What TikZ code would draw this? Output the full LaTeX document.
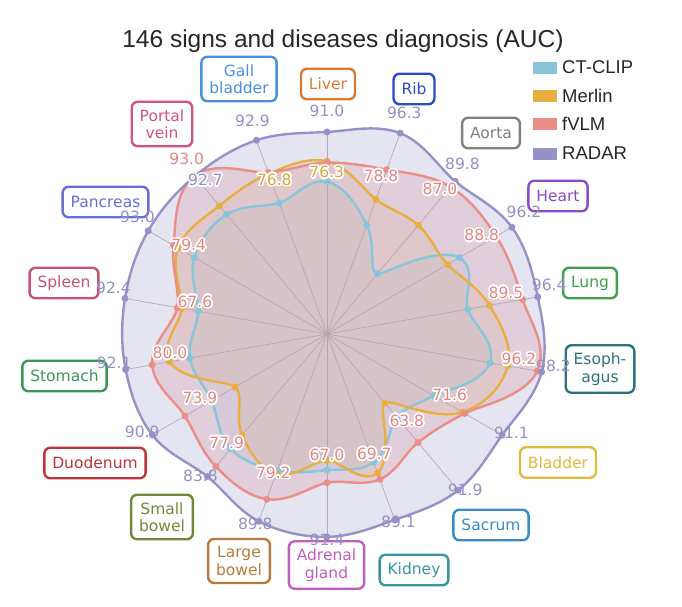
\documentclass[tikz,border=0pt]{standalone}
\usepackage{fontspec}
\setmainfont{DejaVu Sans}
\newfontfamily\titlefont{Liberation Sans}
\usepackage{contour}
\contourlength{1.6pt}
\definecolor{ctclip}{RGB}{135,198,218}
\definecolor{merlin}{RGB}{232,174,66}
\definecolor{fvlm}{RGB}{236,142,136}
\definecolor{radar}{RGB}{150,146,200}
\definecolor{radartext}{RGB}{148,144,196}
\definecolor{fvlmtext}{RGB}{226,134,130}
\definecolor{merlintext}{RGB}{214,166,64}
\definecolor{spokegray}{RGB}{185,180,185}
\definecolor{cliver}{RGB}{221,121,52}
\definecolor{crib}{RGB}{45,75,190}
\definecolor{caorta}{RGB}{128,128,128}
\definecolor{cheart}{RGB}{140,75,200}
\definecolor{clung}{RGB}{65,160,75}
\definecolor{cesoph}{RGB}{45,115,125}
\definecolor{cbladder}{RGB}{225,185,60}
\definecolor{csacrum}{RGB}{55,140,200}
\definecolor{ckidney}{RGB}{55,150,160}
\definecolor{cadrenal}{RGB}{190,95,190}
\definecolor{clarge}{RGB}{185,122,62}
\definecolor{csmall}{RGB}{110,140,55}
\definecolor{cduoden}{RGB}{190,52,58}
\definecolor{cstomach}{RGB}{60,150,90}
\definecolor{cspleen}{RGB}{200,82,112}
\definecolor{cpancreas}{RGB}{100,112,210}
\definecolor{cportal}{RGB}{210,82,130}
\definecolor{cgall}{RGB}{72,145,220}
\tikzset{
  organ/.style={draw=#1, text=#1, fill=white, line width=2.4pt, rounded corners=6pt,
    align=center, inner xsep=8pt, inner ysep=7.5pt, minimum height=30.5pt,
    font=\fontsize{15.5}{17.5}\selectfont},
  auc/.style={text=#1, inner sep=0pt, font=\fontsize{15.5}{17.5}\selectfont},
  spoke/.style={spokegray, line width=0.7pt},
  model/.style={draw=#1, line width=2.4pt, line join=round},
  swatch/.style={fill=#1, minimum width=24pt, minimum height=12pt, inner sep=0pt},
  legtext/.style={anchor=west, inner sep=0pt, text=black!85,
    font=\titlefont\fontsize{18.5}{20}\selectfont}
}
\newcommand\halo[1]{\contour{white}{#1}}
\pgfmathdeclarefunction{crsp}{5}{%
  \pgfmathparse{0.5*(2*#2+(#3-#1)*#5+(2*#1-5*#2+4*#3-#4)*#5^2+(3*#2-#1-3*#3+#4)*#5^3)}%
}
\def\ctclipv{{68.6,52.3,35.5,68.9,64.4,74.6,55.6,49.0,61.5,61.3,65.5,67.5,60.0,62.7,59.0,69.0,70.3,62.8}}
\def\merlinv{{77.8,64.5,64.0,62.7,74.3,82.6,70.5,40.6,66.7,57.0,67.0,59.5,47.8,72.0,66.5,77.5,75.4,76.8}}
\def\fvlmv{{77.2,78.8,86.5,88.0,89.5,96.2,71.6,63.8,69.7,67.0,79.2,77.9,73.9,80.0,68.5,79.8,93.0,77.5}}
\def\radarv{{91.0,96.3,89.8,96.2,96.4,98.2,91.1,91.9,89.1,91.4,89.8,83.8,90.9,92.1,92.4,93.0,92.7,92.9}}
\newcommand\curve[1]{plot [domain=0:18, samples=181, variable=\t]
  ({90-20*\t}:{crsp(#1[int(mod(floor(\t)+17,18))], #1[int(mod(floor(\t),18))],
    #1[int(mod(floor(\t)+1,18))], #1[int(mod(floor(\t)+2,18))], \t-floor(\t))}) -- cycle}
\begin{document}
\begin{tikzpicture}[x=1pt, y=1pt]
\useasboundingbox (-327,-272) rectangle (355,334);
\begin{scope}[x=2.22pt, y=2.22pt]
\foreach \i in {0,...,17}
  \draw [spoke] (0,0) -- ({90-20*\i}:{\radarv[\i]});
\foreach \m/\c/\o in {\ctclipv/ctclip/0.15, \merlinv/merlin/0.15, \fvlmv/fvlm/0.25, \radarv/radar/0.25}
  \fill [\c, fill opacity=\o] \curve{\m};
\foreach \m/\c in {\ctclipv/ctclip, \merlinv/merlin, \fvlmv/fvlm, \radarv/radar} {
  \draw [model=\c] \curve{\m};
  \foreach \i in {0,...,17}
    \fill [\c] ({90-20*\i}:{\m[\i]}) circle (3.5pt);
}
\end{scope}

\node [anchor=base, font=\titlefont\fontsize{24.5}{27}\selectfont, text=black!85] (title) at (16,287) {146 signs and diseases diagnosis (AUC)};

\node [swatch=ctclip] (kctclip) at (218,266) {};
\node [swatch=merlin] (kmerlin) at (218,238) {};
\node [swatch=fvlm] (kfvlm) at (218,210) {};
\node [swatch=radar] (kradar) at (218,180) {};
\node [legtext] (lctclip) at (235,266.5) {CT-CLIP};
\node [legtext] (lmerlin) at (235,238.5) {Merlin};
\node [legtext] (lfvlm) at (235,210.5) {fVLM};
\node [legtext] (lradar) at (235,180.5) {RADAR};

\node [organ=cliver] (liver) at (1,250) {Liver};
\node [organ=crib] (rib) at (87,245) {Rib};
\node [organ=caorta] (aorta) at (164,201) {Aorta};
\node [organ=cheart] (heart) at (231,138) {Heart};
\node [organ=clung] (lung) at (263,51) {Lung};
\node [organ=cesoph] (esoph) at (273,-35) {Esoph-\\agus};
\node [organ=cbladder] (bladder) at (231,-128.5) {Bladder};
\node [organ=csacrum] (sacrum) at (164,-191) {Sacrum};
\node [organ=ckidney] (kidney) at (87,-236) {Kidney};
\node [organ=cadrenal] (adrenal) at (-0.5,-231) {Adrenal\\gland};
\node [organ=clarge] (large) at (-88,-227) {Large\\bowel};
\node [organ=csmall] (small) at (-165,-183) {Small\\bowel};
\node [organ=cduoden] (duoden) at (-232,-129) {Duodenum};
\node [organ=cstomach] (stomach) at (-262.5,-42) {Stomach};
\node [organ=cspleen] (spleen) at (-263,51) {Spleen};
\node [organ=cpancreas] (pancreas) at (-221.5,132) {Pancreas};
\node [organ=cportal] (portal) at (-165,210) {Portal\\vein};
\node [organ=cgall] (gall) at (-88,255) {Gall\\bladder};

\node [auc=radartext] (rliver) at (0,223) {91.0};
\node [auc=radartext] (rrib) at (77.3,221) {96.3};
\node [auc=radartext] (raorta) at (135.5,170.3) {89.8};
\node [auc=radartext] (rheart) at (197,122) {96.2};
\node [auc=radartext] (rlung) at (222.2,49) {96.4};
\node [auc=radartext] (resoph) at (226.5,-31.5) {98.2};
\node [auc=radartext] (rbladder) at (184.5,-98.7) {91.1};
\node [auc=radartext] (rsacrum) at (138.2,-156) {91.9};
\node [auc=radartext] (rkidney) at (71.5,-187.8) {89.1};
\node [auc=radartext] (radrenal) at (0,-206) {91.4};
\node [auc=radartext] (rlarge) at (-71.7,-189.5) {89.8};
\node [auc=radartext] (rsmall) at (-126.5,-142.3) {83.8};
\node [auc=radartext] (rduoden) at (-184.8,-97.8) {90.9};
\node [auc=radartext] (rstomach) at (-212.8,-29) {92.1};
\node [auc=radartext] (rspleen) at (-213.5,46.5) {92.4};
\node [auc=radartext] (rpancreas) at (-189.5,117) {93.0};
\node [auc=radartext] (rportal) at (-121.5,153.2) {\halo{92.7}};
\node [auc=radartext] (rgall) at (-74.5,213.2) {92.9};
\node [auc=fvlmtext] (fportal) at (-140.3,175.3) {93.0};

\node [auc=merlintext] (bgall) at (-52.7,153.7) {\halo{76.8}};
\node [auc=merlintext] (bliver) at (-0.3,161.2) {\halo{76.3}};
\node [auc=fvlmtext] (brib) at (54,157.3) {\halo{78.8}};
\node [auc=fvlmtext] (baorta) at (113,144) {\halo{87.0}};
\node [auc=fvlmtext] (bheart) at (154.7,98) {\halo{88.8}};
\node [auc=fvlmtext] (blung) at (179,40.7) {\halo{89.5}};
\node [auc=fvlmtext] (besoph) at (192,-25.7) {\halo{96.2}};
\node [auc=fvlmtext] (bbladder) at (122.7,-62) {\halo{71.6}};
\node [auc=fvlmtext] (bsacrum) at (79.8,-87.3) {\halo{63.8}};
\node [auc=fvlmtext] (bkidney) at (47.3,-120.7) {\halo{69.7}};
\node [auc=fvlmtext] (badrenal) at (0,-122) {\halo{67.0}};
\node [auc=fvlmtext] (blarge) at (-53.7,-139.3) {\halo{79.2}};
\node [auc=fvlmtext] (bsmall) at (-100.3,-109.7) {\halo{77.9}};
\node [auc=fvlmtext] (bduoden) at (-127,-64.8) {\halo{73.9}};
\node [auc=fvlmtext] (bstomach) at (-157,-19.7) {\halo{80.0}};
\node [auc=fvlmtext] (bspleen) at (-132,31.5) {\halo{67.6}};
\node [auc=fvlmtext] (bpancreas) at (-138.3,88.2) {\halo{79.4}};
\end{tikzpicture}
\end{document}
